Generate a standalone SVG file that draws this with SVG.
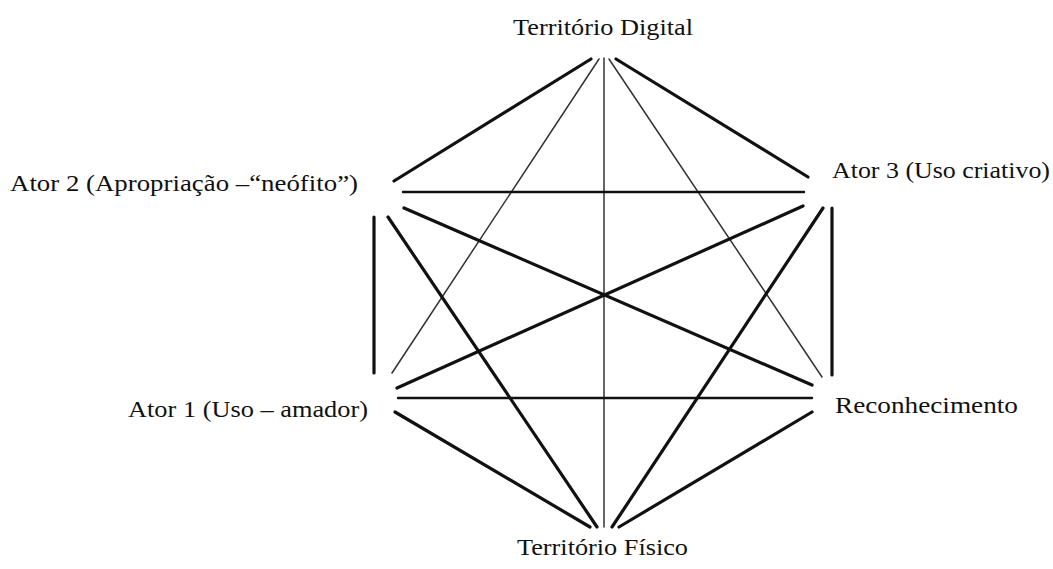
<svg xmlns="http://www.w3.org/2000/svg" width="1053" height="569" viewBox="0 0 1053 569">
<style>
.lbl{font-family:"Liberation Serif","DejaVu Serif",serif;font-size:23.5px;fill:#111}
.thick{stroke:#111;stroke-width:3.2;stroke-linecap:round}
.mid{stroke:#111;stroke-width:2.4;stroke-linecap:round}
.thin{stroke:#333;stroke-width:1.5;stroke-linecap:round}
</style>
<rect width="1053" height="569" fill="#fff"/>
<g id="connectors" fill="none">
<line class="thick" x1="591" y1="59" x2="394" y2="181"/>
<line class="thin" x1="599" y1="59" x2="392" y2="373"/>
<line class="thin" x1="604" y1="58" x2="604" y2="527"/>
<line class="thin" x1="609" y1="59" x2="822" y2="377"/>
<line class="thick" x1="616" y1="59" x2="808" y2="177"/>
<line class="mid" x1="403" y1="192" x2="804" y2="192"/>
<line class="thick" x1="404" y1="208" x2="812" y2="385"/>
<line class="thick" x1="388" y1="217" x2="597" y2="527"/>
<line class="thick" x1="374" y1="217" x2="374" y2="373"/>
<line class="thick" x1="397" y1="388" x2="803" y2="206"/>
<line class="mid" x1="398" y1="398" x2="812" y2="398"/>
<line class="thick" x1="395" y1="412" x2="590" y2="527"/>
<line class="thick" x1="823" y1="208" x2="612" y2="527"/>
<line class="thick" x1="832" y1="208" x2="832" y2="375"/>
<line class="thick" x1="812" y1="412" x2="619" y2="527"/>
</g>
<g id="node-territorio-digital"><text class="lbl" x="513" y="35" textLength="180" lengthAdjust="spacingAndGlyphs">Território Digital</text></g>
<g id="node-ator2"><text class="lbl" x="10" y="191" textLength="348" lengthAdjust="spacingAndGlyphs">Ator 2 (Apropriação –“neófito”)</text></g>
<g id="node-ator3"><text class="lbl" x="832" y="178" textLength="218" lengthAdjust="spacingAndGlyphs">Ator 3 (Uso criativo)</text></g>
<g id="node-ator1"><text class="lbl" x="128" y="417" textLength="240" lengthAdjust="spacingAndGlyphs">Ator 1 (Uso – amador)</text></g>
<g id="node-reconhecimento"><text class="lbl" x="835" y="413" textLength="183" lengthAdjust="spacingAndGlyphs">Reconhecimento</text></g>
<g id="node-territorio-fisico"><text class="lbl" x="517" y="555" textLength="171" lengthAdjust="spacingAndGlyphs">Território Físico</text></g>
</svg>
